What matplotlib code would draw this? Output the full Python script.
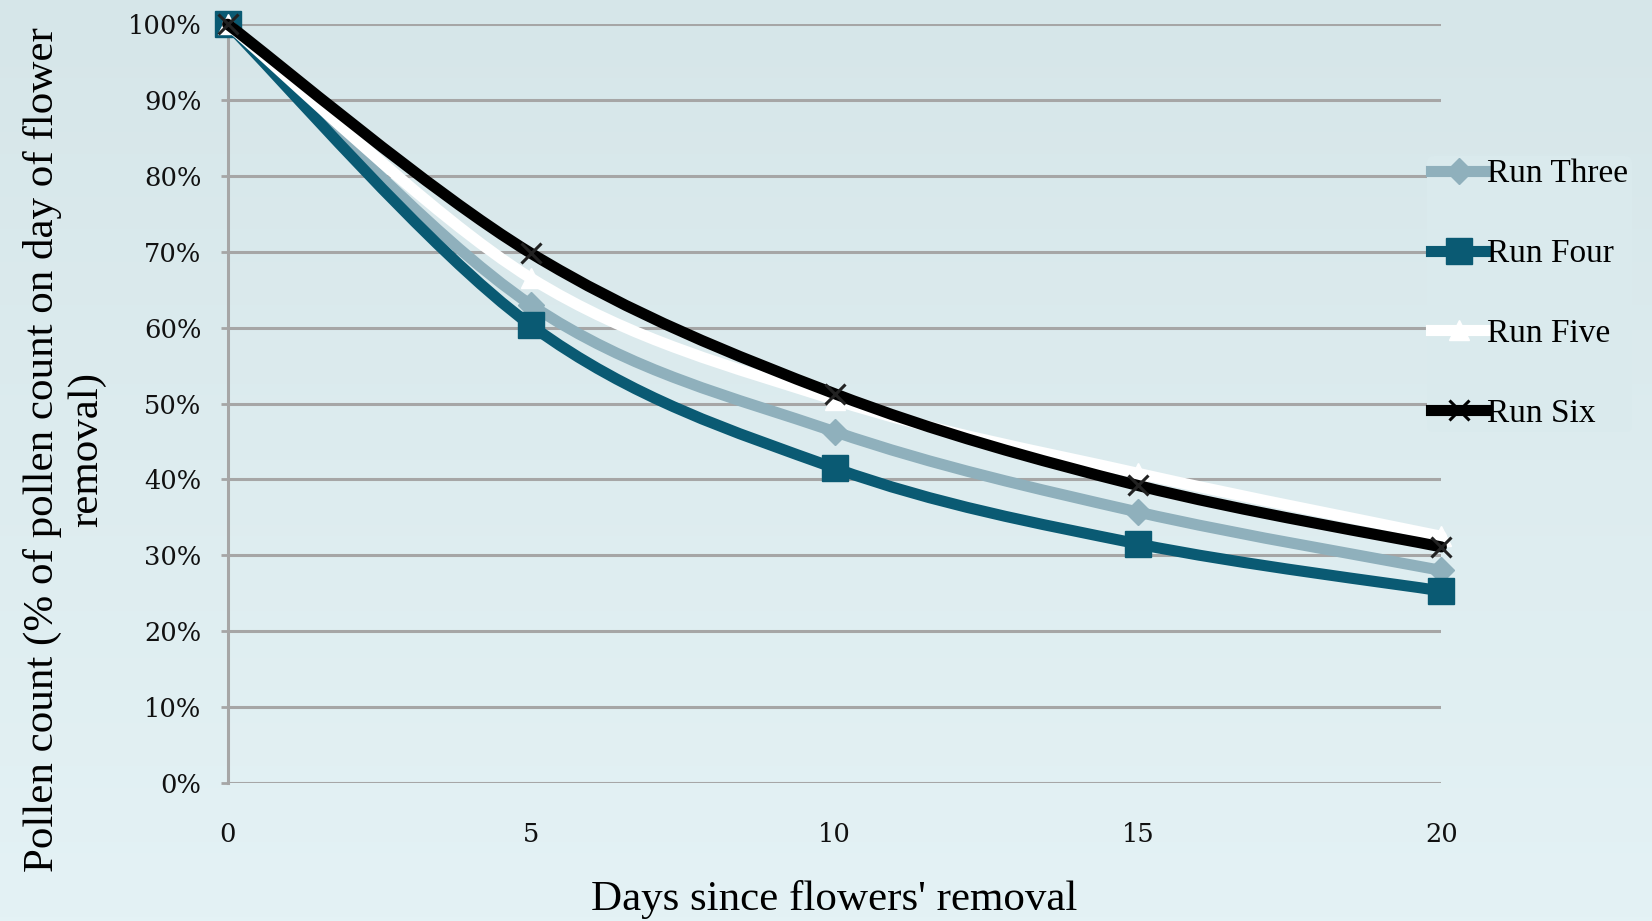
import matplotlib
matplotlib.use("Agg")
import matplotlib.pyplot as plt
import numpy as np
from matplotlib.path import Path
from matplotlib.patches import PathPatch
from matplotlib.lines import Line2D

days = [0, 5, 10, 15, 20]
run_three = [1.00, 0.630, 0.463, 0.357, 0.280]
run_four = [1.00, 0.603, 0.415, 0.315, 0.253]
run_five = [1.00, 0.665, 0.505, 0.408, 0.325]
run_six = [1.00, 0.698, 0.513, 0.392, 0.311]

series = [
    ("Run Three", run_three, "#8fb0bc", "D", 13),
    ("Run Four", run_four, "#0a5a73", "s", 19),
    ("Run Five", run_five, "#ffffff", "^", 15),
    ("Run Six", run_six, "#000000", "x", 14),
]


def smooth_path(x, y):
    # excel-style smoothed line: catmull-rom segments as cubic beziers
    pts = np.column_stack([x, y]).astype(float)
    n = len(pts)
    verts = [pts[0]]
    codes = [Path.MOVETO]
    for i in range(n - 1):
        p0 = pts[max(i - 1, 0)]
        p1 = pts[i]
        p2 = pts[i + 1]
        p3 = pts[min(i + 2, n - 1)]
        c1 = p1 + (p2 - p0) / 6.0
        c2 = p2 - (p3 - p1) / 6.0
        verts += [c1, c2, p2]
        codes += [Path.CURVE4] * 3
    return Path(verts, codes)


fig = plt.figure(figsize=(16.52, 9.21), dpi=100)

# gradient background
bg = fig.add_axes([0, 0, 1, 1], zorder=-5)
top = np.array([214, 230, 233]) / 255
bot = np.array([228, 242, 245]) / 255
t = np.linspace(0, 1, 256)[:, None]
grad = top[None, :] * (1 - t) + bot[None, :] * t
bg.imshow(grad[:, None, :], aspect="auto", extent=[0, 1, 0, 1])
bg.axis("off")

ax = fig.add_axes([0.1378, 0.15, 0.8725 - 0.1378, 0.9737 - 0.15])
ax.patch.set_alpha(0)
ax.set_xlim(0, 20)
ax.set_ylim(0, 1)

ax.set_yticks(np.arange(0, 1.01, 0.1))
ax.set_yticklabels([f"{int(round(v * 100))}%" for v in np.arange(0, 1.01, 0.1)])
ax.set_xticks(days)
ax.set_xticklabels([str(d) for d in days])
ax.yaxis.grid(True, color="#a6a6a6", linewidth=2.2)
ax.set_axisbelow(True)
for s in ["top", "right", "bottom"]:
    ax.spines[s].set_visible(False)
ax.spines["left"].set_color("#a6a6a6")
ax.spines["left"].set_linewidth(2.2)
ax.tick_params(axis="y", length=5, width=2, color="#a6a6a6", pad=14)
ax.tick_params(axis="x", length=0, pad=28)
for lab in ax.get_xticklabels() + ax.get_yticklabels():
    lab.set_family("DejaVu Serif")
    lab.set_fontsize(18.5)
    lab.set_color("#111111")

handles = []
for i, (name, vals, col, mk, ms) in enumerate(series):
    patch = PathPatch(smooth_path(days, vals), facecolor="none", edgecolor=col,
                      linewidth=8, capstyle="round", joinstyle="round",
                      zorder=3 + i, clip_on=False)
    ax.add_patch(patch)
    if mk == "x":
        ax.plot(days, vals, linestyle="none", marker="x", markersize=ms,
                markeredgewidth=2.2, color="#222222", zorder=3.5 + i, clip_on=False)
    else:
        ax.plot(days, vals, linestyle="none", marker=mk, markersize=ms,
                color=col, markeredgecolor=col, zorder=3.5 + i, clip_on=False)
    handles.append(Line2D([], [], color=col, linewidth=8, marker=mk,
                          markersize=ms, markeredgewidth=2.2 if mk == "x" else 1,
                          markerfacecolor=col, markeredgecolor=col))

ax.set_xlabel("Days since flowers' removal", family="Liberation Serif",
              fontsize=31, labelpad=24)
ax.set_ylabel("Pollen count (% of pollen count on day of flower\nremoval)",
              family="Liberation Serif", fontsize=31, linespacing=1.2)
ax.yaxis.set_label_coords(-0.1, 0.439)

leg_bg = tuple(top * 0.68 + bot * 0.32)
leg = fig.legend(handles, [s[0] for s in series], loc="upper left",
                 bbox_to_anchor=(0.864, 0.831), frameon=True,
                 facecolor=leg_bg, edgecolor="none",
                 framealpha=1, prop={"family": "Liberation Serif", "size": 24},
                 handlelength=1.7, handletextpad=0.0, labelspacing=1.48,
                 borderpad=0.1, borderaxespad=0)

fig.savefig("out.png", dpi=100)
